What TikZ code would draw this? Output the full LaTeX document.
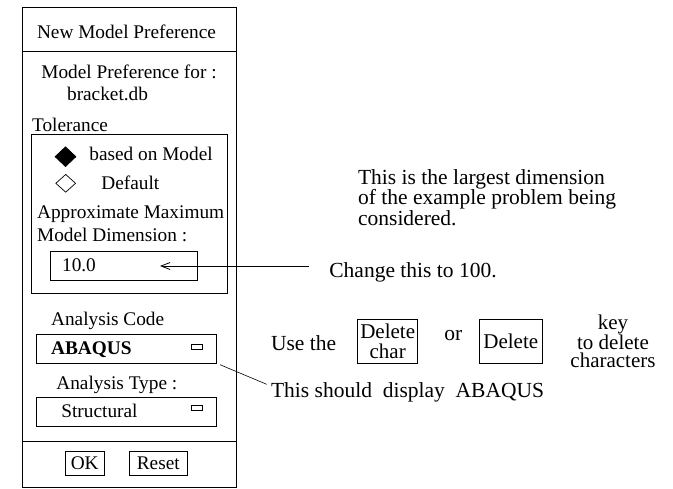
\documentclass[tikz,border=0pt]{standalone}
\usepackage{fontspec}
\setmainfont{Liberation Serif}
\usetikzlibrary{positioning}
\usetikzlibrary{shapes.geometric,arrows.meta}

\begin{document}
\begin{tikzpicture}[x=1pt,y=-1pt,line width=0.8pt,
	every node/.style={inner sep=0pt},
	dlg/.style={font=\fontsize{19.3}{23}\selectfont, anchor=base west},
	note/.style={font=\fontsize{21.5}{20.5}\selectfont, anchor=base west},
	field/.style={draw, rectangle, minimum width=180.7pt, minimum height=29pt},
	knob/.style={draw, rectangle, minimum width=10.5pt, minimum height=4.6pt, line width=0.6pt},
	btn/.style={draw, rectangle, minimum height=24pt, font=\fontsize{19.3}{23}\selectfont},
	keycap/.style={draw, rectangle, minimum height=44pt, align=center, font=\fontsize{21}{19.5}\selectfont},
	radio/.style={diamond, draw, line width=0.7pt},
	arr/.style={-{Straight Barb[length=9pt,width=7pt]}}]
	\useasboundingbox (0,0) rectangle (673,488);

	\draw (22,7) rectangle (236.5,487.4);
	\draw (22,51.7) -- (236.5,51.7);
	\draw (22,441.7) -- (236.5,441.7);
	\node[dlg, anchor=base] (title) at (126.5,38) {New Model Preference};

	\node[dlg] (prefor) at (41,78) {Model Preference for :};
	\node[dlg] (file) at (66.7,100.5) {bracket.db};
	\node[dlg] (tol) at (31.7,131) {Tolerance};
	\draw (31,134.5) rectangle (227,293.3);
	\node[radio, fill, minimum width=21pt, minimum height=20pt] (bymodel) at (65.5,156.7) {};
	\node[dlg] (bymodeltxt) at (89,160.5) {based on Model};
	\node[radio, minimum width=20pt, minimum height=18pt] (default) at (65.7,183.3) {};
	\node[dlg] (defaulttxt) at (101,189) {Default};
	\node[dlg] (approx) at (36.7,218.5) {Approximate Maximum};
	\node[dlg] (dimlbl) at (36.7,241) {Model Dimension :};
	\node[field, minimum width=146.6pt] (dimbox) at (124,266.2) {};
	\node[dlg] (dimval) at (61.7,271.5) {10.0};

	\node[dlg] (codelbl) at (50.7,325) {Analysis Code};
	\node[field] (codebox) at (126.3,348.8) {};
	\node[dlg, font=\fontsize{19.3}{23}\selectfont\bfseries] (code) at (50.7,354.5) {ABAQUS};
	\node[knob] (codeknob) at (197,346.7) {};
	\node[dlg] (typelbl) at (56,389) {Analysis Type :};
	\node[field, minimum height=29.4pt] (typebox) at (126.3,412) {};
	\node[dlg] (type) at (61,417) {Structural};
	\node[knob] (typeknob) at (196.7,408) {};

	\node[btn, minimum width=39.3pt] (ok) at (84.7,463) {OK};
	\node[btn, minimum width=58.7pt] (reset) at (158.3,463) {Reset};

	\node[note, align=left] (remark) at (357.7,225.3) {This is the largest dimension\\of the example problem being\\considered.};
	\node[note] (change) at (329,277) {Change this to 100.};
	\coordinate (tip) at (160,266);
	\coordinate (tail) at (309,266);
	\draw[arr] (tail) -- (tip);

	\node[note] (use) at (270.7,350.3) {Use the};
	\node[keycap, minimum width=60pt] (delchar) at (387.7,341.3) {Delete\\char};
	\node[note] (or) at (444,340) {or};
	\node[keycap, minimum width=63pt] (delete) at (510.8,341.3) {Delete};
	\node[align=center, font=\fontsize{21}{18}\selectfont] (keytxt) at (613,341) {key\\to delete\\characters};

	\node[note] (display) at (270.7,397) {This should\ \ display\ \ ABAQUS};
	\coordinate (lead) at (266.7,384.3);
	\draw[line width=0.6pt] ([xshift=3pt,yshift=-1pt]codebox.south east) -- (lead);
\end{tikzpicture}
\end{document}
